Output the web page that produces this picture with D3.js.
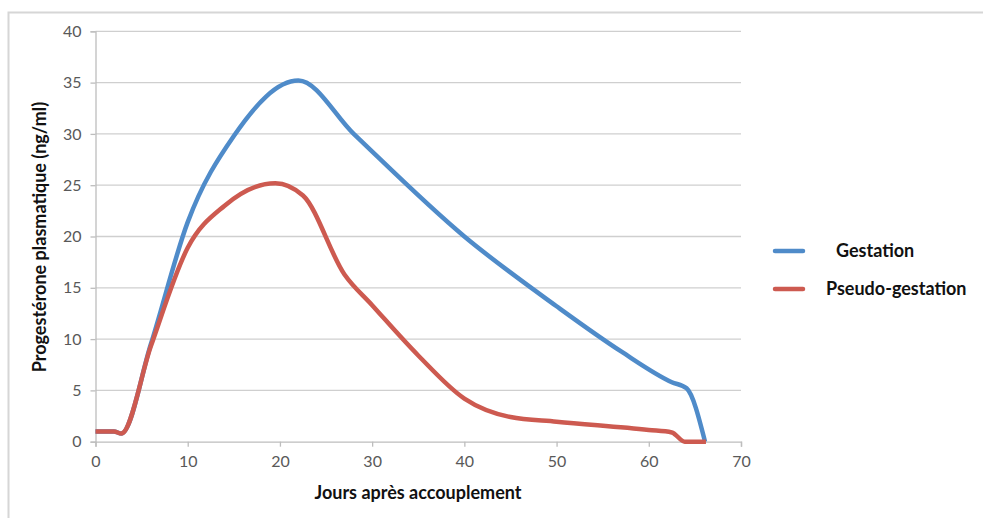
<!DOCTYPE html>
<html><head><meta charset="utf-8">
<script src="https://cdn.jsdelivr.net/npm/d3@7"></script>
<style>body{margin:0;background:#fff;} svg{display:block;}</style>
</head><body>
<svg id="c" width="983" height="518"></svg>
<script>
const days = [0,2,2.8,6,10,15,22,28,40,50,57,62.5,64.1,66.1];
const gestation = [1,1,0.8,9.5,21.4,29.8,35.2,30.0,20,13.2,8.8,5.8,5.2,0];
const pseudoDays = [0,2,2.8,6,10,14,19.5,22.5,27,30,35,40,45,50,60,62.5,63.9,66.2];
const pseudo = [1,1,0.8,9.3,18.9,23,25.2,24,16.3,13.3,8.4,4.2,2.4,1.95,1.14,0.9,0,0];
const xTicks = [0,10,20,30,40,50,60,70];
const yTicks = [0,5,10,15,20,25,30,35,40];
const seriesNames = ["Gestation","Pseudo-gestation"];
const colors = ["#4F8BC9","#CD5A50"];

const svg = d3.select("#c");
svg.append("path").attr("d","M8.5,520 V12.5 H983").attr("fill","none").attr("stroke","#d6d6d6").attr("stroke-width",2);

const x = d3.scaleLinear().domain([0,70]).range([95.5,741]);
const y = d3.scaleLinear().domain([0,40]).range([441.7,31.3]);

svg.append("g").selectAll("line").data(yTicks.filter(d=>d>0)).join("line")
  .attr("x1",x(0)).attr("x2",x(70)).attr("y1",d=>y(d)).attr("y2",d=>y(d))
  .attr("stroke","#cfcfcf").attr("stroke-width",1.3);

const font = "Lato, 'Open Sans', sans-serif";
const yAxis = svg.append("g").attr("transform",`translate(${x(0)},0)`)
  .call(d3.axisLeft(y).tickValues(yTicks).tickSize(5).tickPadding(9));
const xAxis = svg.append("g").attr("transform",`translate(0,${y(0)})`)
  .call(d3.axisBottom(x).tickValues(xTicks).tickSize(5).tickPadding(9));
[yAxis,xAxis].forEach(a=>{
  a.selectAll("path").attr("stroke","#bdbdbd").attr("stroke-width",1.3);
  a.selectAll("line").attr("stroke","#bdbdbd").attr("stroke-width",1.3);
  a.selectAll("text").attr("fill","#595959").style("font-family",font).style("font-size","16px");
});

const line = d3.line().x(d=>x(d[0])).y(d=>y(d[1])).curve(d3.curveMonotoneX);
const gData = days.map((d,i)=>[d,gestation[i]]);
const pData = pseudoDays.map((d,i)=>[d,pseudo[i]]);
svg.append("path").datum(gData).attr("d",line).attr("fill","none").attr("stroke",colors[0]).attr("stroke-width",4.5).attr("stroke-linejoin","round");
svg.append("path").datum(pData).attr("d",line).attr("fill","none").attr("stroke",colors[1]).attr("stroke-width",4.5).attr("stroke-linejoin","round");

svg.append("text").attr("x",418).attr("y",499).attr("text-anchor","middle")
  .style("font-family",font).style("font-weight","bold").style("font-size","18px").attr("fill","#111")
  .text("Jours après accouplement");
svg.append("text").attr("transform","translate(46,237) rotate(-90)").attr("text-anchor","middle")
  .style("font-family",font).style("font-weight","bold").style("font-size","18px").attr("fill","#111")
  .text("Progestérone plasmatique (ng/ml)");

const leg = [{y:251, tx:836, name:"Gestation"},{y:289, tx:826, name:"Pseudo-gestation"}];
leg.forEach((l,i)=>{
  svg.append("line").attr("x1",775).attr("x2",803).attr("y1",l.y).attr("y2",l.y)
    .attr("stroke",colors[i]).attr("stroke-width",4.5).attr("stroke-linecap","round");
  svg.append("text").attr("x",l.tx).attr("y",l.y+6)
    .style("font-family",font).style("font-weight","bold").style("font-size","18px").attr("fill","#111")
    .text(seriesNames[i]);
});
</script>
</body></html>
